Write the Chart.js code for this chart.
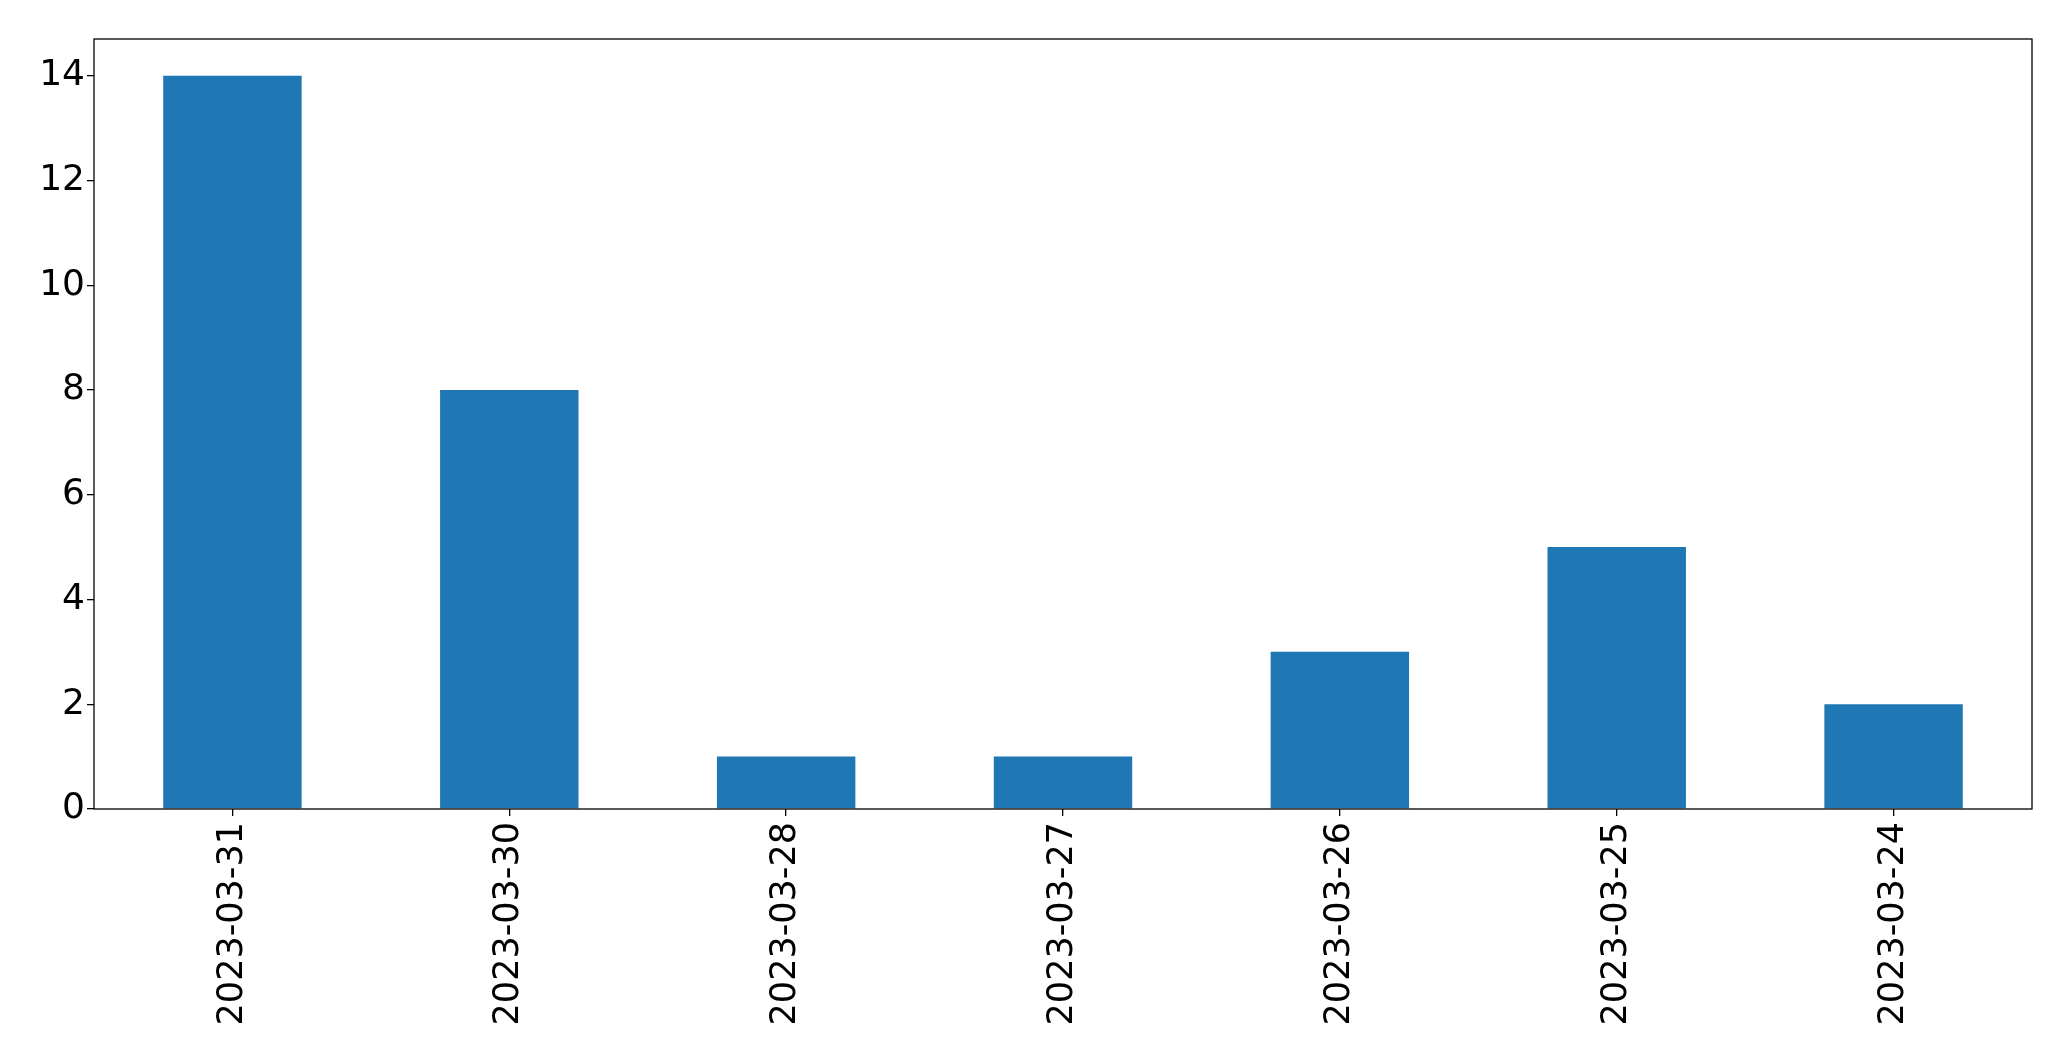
<!DOCTYPE html>
<html>
<head>
<meta charset="utf-8">
<script src="https://cdn.jsdelivr.net/npm/chart.js@4.4.1/dist/chart.umd.min.js"></script>
<style>
  body { margin: 0; background: #ffffff; }
</style>
</head>
<body>
<canvas id="myChart" width="2071" height="1061"></canvas>
<script>
const dates = ["2023-03-31", "2023-03-30", "2023-03-28", "2023-03-27", "2023-03-26", "2023-03-25", "2023-03-24"];
const counts = [14, 8, 1, 1, 3, 5, 2];
const yTicks = [0, 2, 4, 6, 8, 10, 12, 14];

// box around the plot area, like matplotlib spines
const frame = {
    id: "frame",
    afterDraw(chart) {
        const a = chart.chartArea;
        const ctx = chart.ctx;
        ctx.save();
        ctx.strokeStyle = "#000000";
        ctx.lineWidth = 1.3;
        ctx.strokeRect(a.left, a.top, a.right - a.left, a.bottom - a.top);
        ctx.restore();
    },
};

var ctx = document.getElementById("myChart").getContext("2d");
var myChart = new Chart(ctx, {
    type: "bar",
    data: {
        labels: dates,
        datasets: [
            {
                label: "count",
                data: counts,
                backgroundColor: "#1f77b4",
                borderWidth: 0,
                barPercentage: 0.5,
                categoryPercentage: 1.0,
            },
        ],
    },
    options: {
        responsive: false,
        animation: false,
        devicePixelRatio: 1,
        layout: {
            padding: { top: 39, right: 39, left: 0, bottom: 0 },
        },
        plugins: {
            legend: { display: false },
            tooltip: { enabled: false },
        },
        scales: {
            x: {
                offset: true,
                grid: {
                    display: true,
                    offset: false,
                    drawOnChartArea: false,
                    drawTicks: true,
                    tickLength: 7,
                    color: "#000000",
                    lineWidth: 1.3,
                },
                border: { display: false },
                ticks: {
                    minRotation: 90,
                    maxRotation: 90,
                    padding: 6,
                    color: "#000000",
                    font: { family: "DejaVu Sans", size: 35 },
                },
                afterFit: (scale) => {
                    scale.height = 252;
                },
            },
            y: {
                min: 0,
                max: 14.7,
                grid: {
                    display: true,
                    drawOnChartArea: false,
                    drawTicks: true,
                    tickLength: 7,
                    color: "#000000",
                    lineWidth: 1.3,
                },
                border: { display: false },
                afterBuildTicks: (scale) => {
                    scale.ticks = yTicks.map((v) => ({ value: v }));
                },
                ticks: {
                    padding: 2,
                    color: "#000000",
                    font: { family: "DejaVu Sans", size: 36 },
                },
                afterFit: (scale) => {
                    scale.width = 94;
                },
            },
        },
    },
    plugins: [frame],
});
</script>
</body>
</html>
